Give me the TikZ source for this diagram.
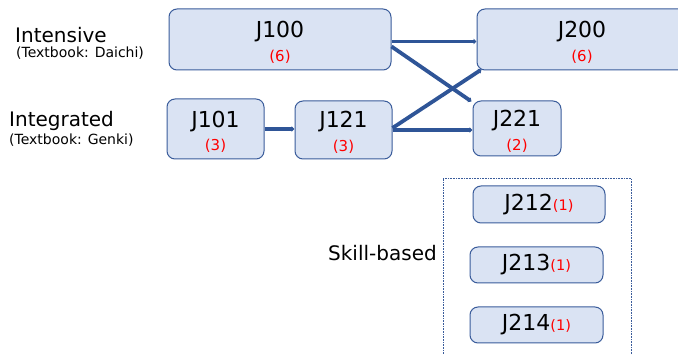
\documentclass[tikz,border=0pt]{standalone}
\usepackage{fontspec}
\setmainfont{DejaVu Sans}
\usetikzlibrary{arrows.meta}
\definecolor{boxfill}{RGB}{218,227,243}
\definecolor{boxline}{RGB}{58,92,155}
\definecolor{arrowc}{RGB}{47,85,151}
\definecolor{numred}{RGB}{255,0,0}
\newcommand{\cnti}[1]{{\color{numred}\fontsize{14.5}{16}\selectfont(#1)}}
\begin{document}
\begin{tikzpicture}[x=1pt,y=1pt,
  course/.style={draw=boxline,fill=boxfill,line width=1pt,rounded corners=8pt,inner sep=0pt},
  ctitle/.style={inner sep=0pt,font=\fontsize{22}{24}\selectfont},
  ccount/.style={inner sep=0pt,text=numred,font=\fontsize{15}{17}\selectfont},
  lbl/.style={align=left,inner sep=0pt,anchor=west},
  flow/.style={draw=arrowc,line width=3.8pt,-{Triangle[length=3pt,width=5.5pt]}}]
\useasboundingbox (0,0) rectangle (678,-355);
% left labels
\node[lbl] (lint) at (15,-35) {\fontsize{20}{22}\selectfont Intensive};
\node[lbl] (lintb) at (16,-53) {\fontsize{14}{16}\selectfont (Textbook: Daichi)};
\node[lbl] (lig) at (9,-121) {\fontsize{20}{22}\selectfont Integrated};
\node[lbl] (ligb) at (9,-140) {\fontsize{14}{16}\selectfont (Textbook: Genki)};
% course boxes
\node[course,minimum width=222pt,minimum height=61pt] (j100) at (280,-39.5) {};
\node[ctitle] (j100t) at ([yshift=7.5pt]j100.center) {J100};
\node[ccount] (j100c) at ([yshift=-17.5pt]j100.center) {(6)};
\node[course,minimum width=210pt,minimum height=61pt] (j200) at (582,-39.5) {};
\node[ctitle] (j200t) at ([yshift=7.5pt]j200.center) {J200};
\node[ccount] (j200c) at ([yshift=-17.5pt]j200.center) {(6)};
\node[course,minimum width=97pt,minimum height=60pt] (j101) at (215.5,-129) {};
\node[ctitle] (j101t) at ([yshift=7.5pt]j101.center) {J101};
\node[ccount] (j101c) at ([yshift=-17pt]j101.center) {(3)};
\node[course,minimum width=97pt,minimum height=58pt] (j121) at (343.5,-130) {};
\node[ctitle] (j121t) at ([yshift=8pt]j121.center) {J121};
\node[ccount] (j121c) at ([yshift=-17pt]j121.center) {(3)};
\node[course,minimum width=88pt,minimum height=55pt] (j221) at (517,-128.5) {};
\node[ctitle] (j221t) at ([yshift=7.5pt]j221.center) {J221};
\node[ccount] (j221c) at ([yshift=-17pt]j221.center) {(2)};
% skill-based
\draw[boxline,densely dotted,line width=0.6pt] (443,-365) -- (443,-178) -- (631,-178) -- (631,-365);
\node[lbl] (lsk) at (328,-253) {\fontsize{20}{22}\selectfont Skill-based};
\node[course,minimum width=132pt,minimum height=37pt,font=\fontsize{22}{24}\selectfont] (j212) at (539,-204.5) {J212\cnti{1}};
\node[course,minimum width=133pt,minimum height=36pt,font=\fontsize{22}{24}\selectfont] (j213) at (536.5,-265) {J213\cnti{1}};
\node[course,minimum width=133pt,minimum height=36pt,font=\fontsize{22}{24}\selectfont] (j214) at (536.5,-325) {J214\cnti{1}};
% connectors
\draw[flow] ([yshift=-2pt]j100.east) -- ([yshift=-2pt]j200.west);
\draw[flow] ([yshift=-7pt]j100.east) -- ([xshift=-1pt,yshift=-1pt]j221.north west);
\draw[flow] ([yshift=2pt]j121.east) -- ([xshift=5pt,yshift=1pt]j200.south west);
\draw[flow] ([yshift=0pt]j121.east) -- (j221.west |- j121.east);
\draw[flow] (j101.east) -- (j121.west |- j101.east);
\end{tikzpicture}
\end{document}
